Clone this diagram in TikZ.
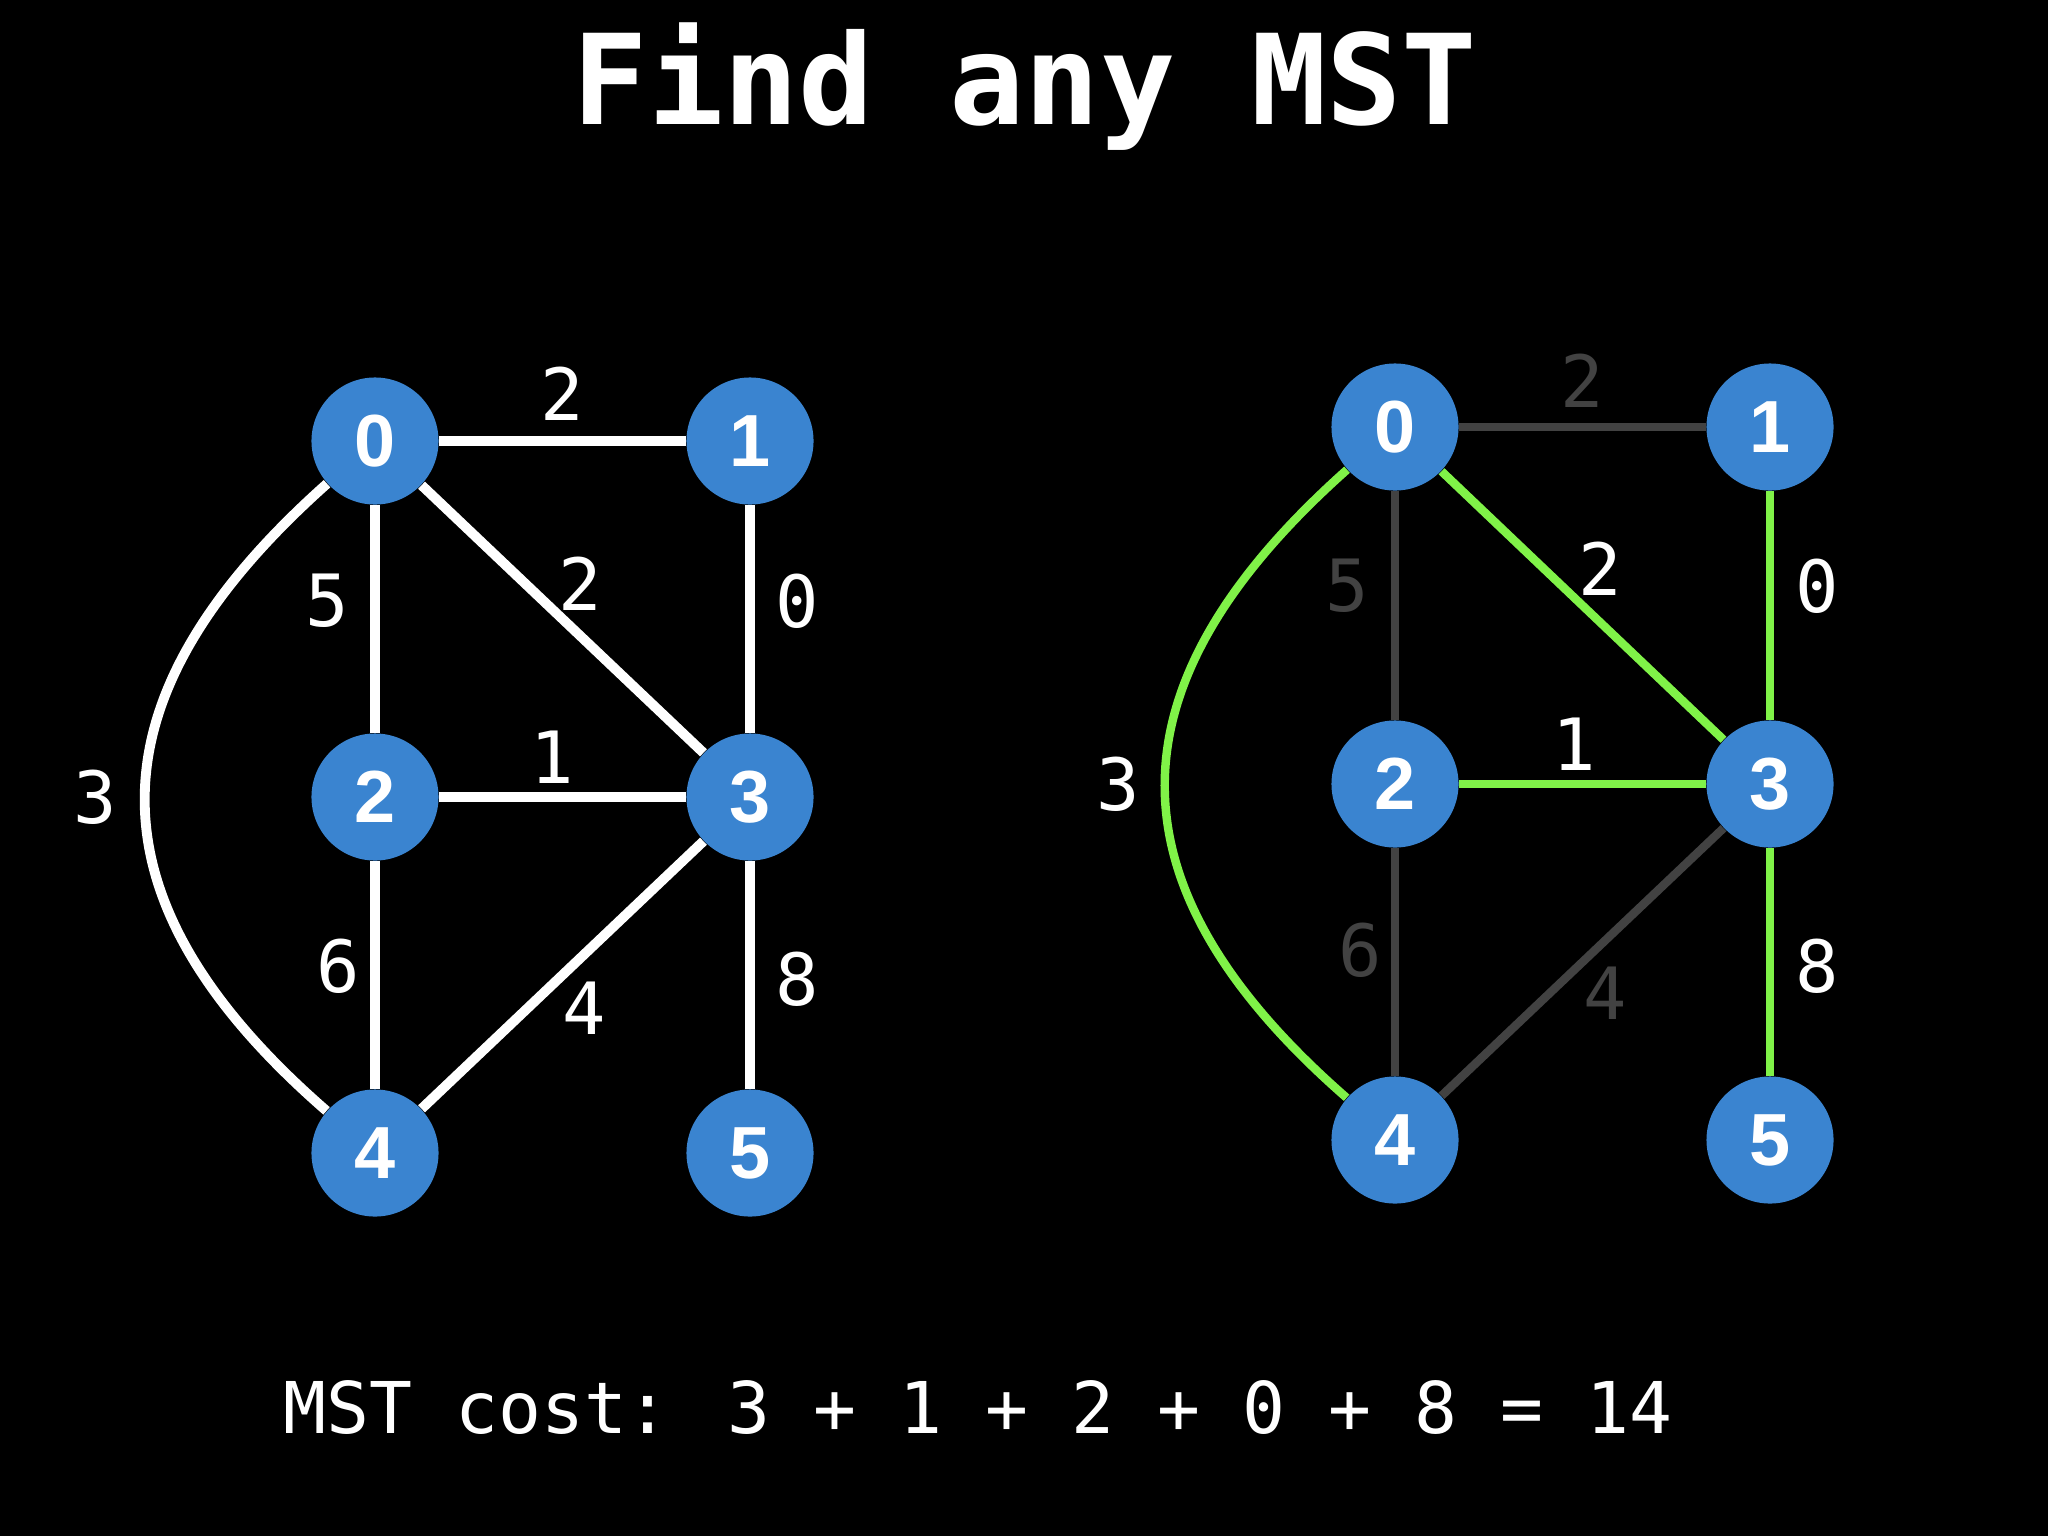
\documentclass[tikz,border=0pt]{standalone}
\usepackage{fontspec}
\setmainfont{Liberation Sans}
\newfontfamily\monof{DejaVu Sans Mono}
\newfontfamily\nodef{Liberation Sans}
\definecolor{nodeblue}{RGB}{58,132,208}
\definecolor{mstgreen}{RGB}{128,242,72}
\definecolor{dimgray}{RGB}{66,66,66}
\tikzset{
  vtx/.style={circle, fill=nodeblue, minimum size=1.27cm, inner sep=0pt, text=white,
    font=\nodef\bfseries\fontsize{21}{21}\selectfont},
  wedge/.style={draw=white, line width=2.8pt},
  gedge/.style={draw=mstgreen, line width=2.4pt},
  dedge/.style={draw=dimgray, line width=2.4pt},
  wlab/.style={text=white, inner sep=0pt, font=\monof\fontsize{20.5}{20.5}\selectfont},
  dlab/.style={wlab, text=dimgray}
}
\begin{document}
\begin{tikzpicture}[x=0.01cm,y=-0.01cm]
\fill[black] (0,0) rectangle (2048,1536);
\useasboundingbox (0,0) rectangle (2048,1536);

\node[text=white, anchor=base, inner sep=0pt, font=\monof\bfseries\fontsize{35.6}{36}\selectfont] (title) at (1025,124) {Find any MST};

% left graph
\node[vtx] (a0) at (375,441) {0};
\node[vtx] (a1) at (750,441) {1};
\node[vtx] (a2) at (375,797) {2};
\node[vtx] (a3) at (750,797) {3};
\node[vtx] (a4) at (375,1153) {4};
\node[vtx] (a5) at (750,1153) {5};
\draw[wedge] (a0) -- (a1);
\draw[wedge] (a0) -- (a2);
\draw[wedge] (a0) -- (a3);
\draw[wedge] (a1) -- (a3);
\draw[wedge] (a2) -- (a3);
\draw[wedge] (a2) -- (a4);
\draw[wedge] (a3) -- (a4);
\draw[wedge] (a3) -- (a5);
\draw[wedge] (a0) .. controls (84,700) and (84,900) .. (a4);
\node[wlab] (la01) at (562,394) {2};
\node[wlab] (la02) at (327,601) {5};
\node[wlab] (la03) at (580,584) {2};
\node[wlab] (la13) at (797,601) {0};
\node[wlab] (la04) at (95,797) {3};
\node[wlab] (la23) at (552,757) {1};
\node[wlab] (la24) at (338,966) {6};
\node[wlab] (la34) at (584,1008) {4};
\node[wlab] (la35) at (797,979) {8};

% right graph
\node[vtx] (b0) at (1395,427) {0};
\node[vtx] (b1) at (1770,427) {1};
\node[vtx] (b2) at (1395,784) {2};
\node[vtx] (b3) at (1770,784) {3};
\node[vtx] (b4) at (1395,1140) {4};
\node[vtx] (b5) at (1770,1140) {5};
\draw[dedge] (b0) -- (b1);
\draw[dedge] (b0) -- (b2);
\draw[gedge] (b0) -- (b3);
\draw[gedge] (b1) -- (b3);
\draw[gedge] (b2) -- (b3);
\draw[dedge] (b2) -- (b4);
\draw[dedge] (b3) -- (b4);
\draw[gedge] (b3) -- (b5);
\draw[gedge] (b0) .. controls (1104,686) and (1104,886) .. (b4);
\node[dlab] (lb01) at (1582,381) {2};
\node[dlab] (lb02) at (1347,586) {5};
\node[wlab] (lb03) at (1600,569) {2};
\node[wlab] (lb13) at (1817,586) {0};
\node[wlab] (lb04) at (1118,784) {3};
\node[wlab] (lb23) at (1574,744) {1};
\node[dlab] (lb24) at (1360,950) {6};
\node[dlab] (lb34) at (1605,993) {4};
\node[wlab] (lb35) at (1817,966) {8};

\node[text=white, anchor=base, inner sep=0pt, font=\monof\fontsize{20.3}{21}\selectfont] (cost) at (978,1433) {MST cost: 3 + 1 + 2 + 0 + 8 = 14};
\end{tikzpicture}
\end{document}
